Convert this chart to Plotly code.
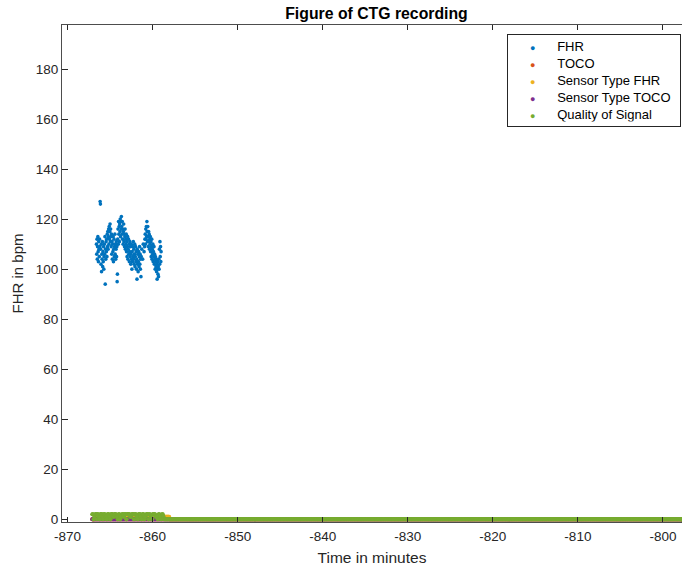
import numpy as np
import plotly.graph_objects as go

# ---- CTG data -------------------------------------------------------------
# Fetal heart rate (bpm), sampled every 2 s starting at FHR_START (minutes).
FHR_START = -866.6
FHR_RATE = 30.0  # samples per minute
fhr_values = [
    110, 106, 112, 104, 109, 113, 107, 103, 111, 108, 105, 112, 109,
    127, 126,
    108, 102, 110, 99, 106, 104, 111, 101, 107, 103, 109, 100, 105,
    110, 106, 113, 94, 108, 104, 111,
    107, 112, 105, 114, 109, 115, 108, 113, 116, 110, 117, 112, 115, 118, 111, 116, 113,
    109, 114, 106, 111, 104, 110, 107, 113, 103, 108, 112, 105, 109, 114, 106, 110, 104, 108, 111, 105, 109,
    95, 98,
    112, 116, 110, 119, 114, 117, 111, 118, 115, 120, 113, 119, 116,
    121, 117, 114, 119, 112, 116, 110, 115, 118, 111, 114, 109, 113, 116, 108, 112, 110,
    114, 107, 111, 105, 109, 113, 104, 108, 112, 106, 110, 103, 107, 111, 105, 109, 102, 106, 110, 104,
    100, 107, 103, 109, 105,
    111, 104, 108, 102, 106, 110, 101, 105, 109, 103, 107, 100, 104, 96, 108, 102, 106, 99, 103, 107,
    101, 105, 109, 102, 106, 100, 104, 97,
    105, None, 108, None, None, 104, None, 110, None, None, 107, None, 109, 112,
    114, 110, 116, 112, 117, 113, 119, 115, 111, 117, 113, 109, 115, 111, 114, 108, 112, 110,
    113, 107, 111, 105, 109, 112, 104, 108, 106, 110, 103, 107, 105, 109, 102, 106, 104, 100, 105, 103, 101,
    104, 99, 102, 96, 100, 103, 98, 101, 97, 104, 100,
    108, 102, 111, 105, 109, 103, 107,
]

# Status channels, sampled every 3 s from SIG_START, stored as (value, run length).
SIG_START = -867.1
SIG_RATE = 20.0  # samples per minute
toco_runs = [(0, 1412)]
sensor_fhr_runs = [(0, 6), (1, 176), (0, 1230)]
sensor_toco_runs = [(0, 1412)]
quality_runs = [
    (2, 3), (0, 2), (1, 2), (2, 4), (0, 1), (2, 3), (1, 2), (0, 2), (2, 5), (1, 1),
    (0, 2), (2, 4), (1, 3), (0, 2), (2, 4), (1, 2), (0, 2),
    (2, 5), (1, 3), (2, 5), (1, 3),
    (0, 2), (2, 3), (0, 2), (1, 3),
    (2, 4), (1, 2), (2, 4),
    (0, 2), (2, 2),
    (2, 5), (1, 4), (2, 5),
    (0, 2), (2, 4), (1, 3), (0, 2), (2, 5), (1, 2), (0, 2), (2, 4), (0, 2), (1, 3),
    (2, 5), (0, 2), (2, 3), (1, 3), (0, 2), (2, 2),
    (2, 5), (1, 5),
    (0, 2), (2, 3), (1, 3), (0, 2), (2, 3), (1, 2), (0, 9),
    (0, 1234),
]

series_names = ["FHR", "TOCO", "Sensor Type FHR", "Sensor Type TOCO", "Quality of Signal"]
x_ticks = [-870, -860, -850, -840, -830, -820, -810, -800]
y_ticks = [0, 20, 40, 60, 80, 100, 120, 140, 160, 180]


def expand(runs):
    vals = []
    for v, n in runs:
        vals.extend([v] * n)
    return vals


def sample_times(start, rate, n):
    return start + np.arange(n) / rate


fhr_t = sample_times(FHR_START, FHR_RATE, len(fhr_values))
toco = expand(toco_runs)
sensor_fhr = expand(sensor_fhr_runs)
sensor_toco = expand(sensor_toco_runs)
quality = expand(quality_runs)
sig_t = sample_times(SIG_START, SIG_RATE, len(quality))

# MATLAB default colour order
colors = ["#0072BD", "#D95319", "#EDB120", "#7E2F8E", "#77AC30"]
FONT = "Liberation Sans, Arial, Helvetica, sans-serif"
INK = "#262626"

fig = go.Figure()
series = [
    (fhr_t, fhr_values, 3.6),
    (sig_t, toco, 4),
    (sig_t, sensor_fhr, 4),
    (sig_t, sensor_toco, 4),
    (sig_t, quality, 4),
]
for name, (t, v, size), c in zip(series_names, series, colors):
    fig.add_trace(go.Scatter(
        x=t, y=v, mode="markers", name=name, showlegend=False,
        marker=dict(color=c, size=size, line=dict(width=0)),
    ))

# Compact boxed legend (dot + label per series)
NB = "\u00a0"
legend_lines = [
    NB * 5 + f"<span style='color:{c}; font-size:9px'>\u25cf</span>" + NB * 6 + name
    for name, c in zip(series_names, colors)
]
fig.add_annotation(
    text="<br>".join(legend_lines),
    xref="paper", yref="paper",
    x=(681 - 62) / 620, xanchor="right",
    y=(522 - 34) / 497, yanchor="top",
    showarrow=False, align="left",
    width=164,
    bgcolor="white", bordercolor=INK, borderwidth=1, borderpad=4,
    font=dict(family=FONT, size=13, color="black"),
)

fig.update_layout(
    width=682, height=566,
    margin=dict(l=62, r=0, t=25, b=44),
    plot_bgcolor="white", paper_bgcolor="white",
    font=dict(family=FONT, size=14, color=INK),
    title=dict(
        text="<b>Figure of CTG recording</b>",
        x=376.5 / 682, xanchor="center",
        y=(566 - 13) / 566, yanchor="middle",
        font=dict(size=15.8, color="black"),
    ),
    showlegend=False,
)

fig.update_xaxes(
    range=[-870.65, -797.76],
    tickvals=x_ticks, ticktext=[str(v) for v in x_ticks],
    ticks="inside", ticklen=5, tickcolor=INK, tickwidth=1,
    showline=True, linecolor="#4d4d4d", linewidth=1, mirror="ticks",
    showgrid=False, zeroline=False,
    tickfont=dict(size=13.5, color=INK),
    ticklabelstandoff=2,
    title=dict(text="Time in minutes", font=dict(size=15.5, color=INK), standoff=8),
)
fig.update_yaxes(
    range=[-1.08, 197.6],
    tickvals=y_ticks, ticktext=[str(v) for v in y_ticks],
    ticks="inside", ticklen=6, tickcolor=INK, tickwidth=1,
    showline=True, linecolor="#4d4d4d", linewidth=1,
    showgrid=False, zeroline=False,
    tickfont=dict(size=13.5, color=INK),
    title=dict(text="FHR in bpm", font=dict(size=15, color=INK), standoff=8),
)

fig.write_html("out.html")
